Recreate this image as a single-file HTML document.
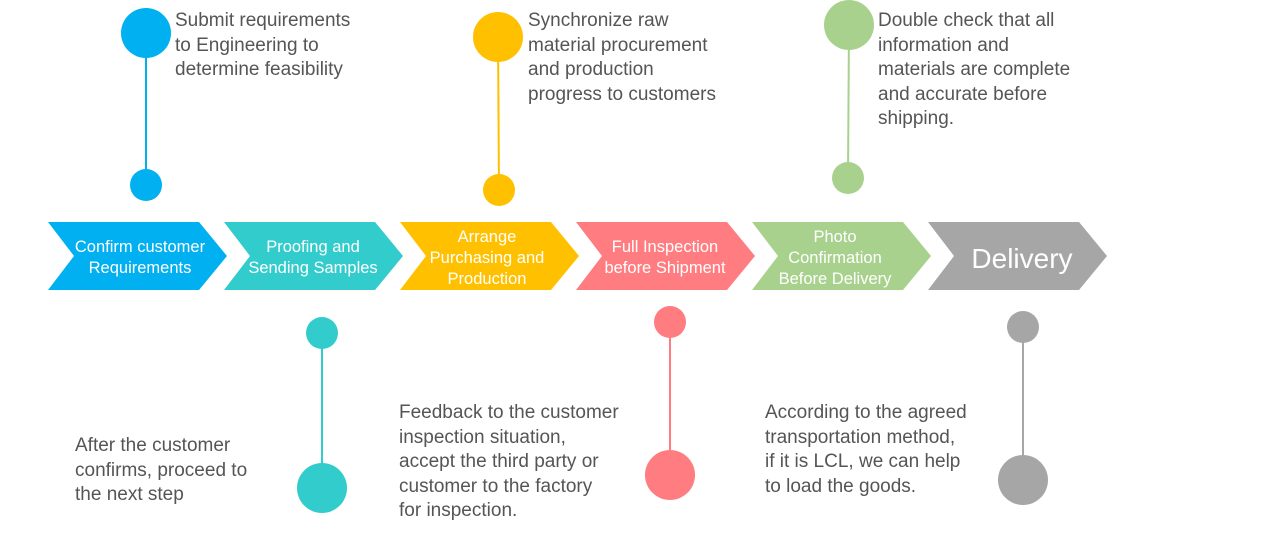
<!DOCTYPE html>
<html><head><meta charset="utf-8"><style>
html,body{margin:0;padding:0;background:#fff;width:1281px;height:551px;overflow:hidden}
svg{display:block}
.t{font-family:"Liberation Sans",sans-serif;font-size:19px;fill:#555}
.c{font-family:"Liberation Sans",sans-serif;font-size:16.5px;fill:#fff;text-anchor:middle}
</style></head><body>
<svg width="1281" height="551" viewBox="0 0 1281 551" xmlns="http://www.w3.org/2000/svg">
<g>
<polygon points="48,222 199,222 227,256 199,290 48,290 74,256" fill="#00b0f0"/>
<polygon points="224,222 375,222 403,256 375,290 224,290 250,256" fill="#33cccc"/>
<polygon points="400,222 551,222 579,256 551,290 400,290 426,256" fill="#ffc000"/>
<polygon points="576,222 727,222 755,256 727,290 576,290 602,256" fill="#ff7c80"/>
<polygon points="752,222 903,222 931,256 903,290 752,290 778,256" fill="#a9d18e"/>
<polygon points="928,222 1079,222 1107,256 1079,290 928,290 954,256" fill="#a6a6a6"/>
</g>
<text class="c" x="140" y="252">Confirm customer</text>
<text class="c" x="140" y="273">Requirements</text>
<text class="c" x="313" y="252">Proofing and</text>
<text class="c" x="313" y="273">Sending Samples</text>
<text class="c" x="487" y="242">Arrange</text>
<text class="c" x="487" y="263">Purchasing and</text>
<text class="c" x="487" y="284">Production</text>
<text class="c" x="665" y="252">Full Inspection</text>
<text class="c" x="665" y="273">before Shipment</text>
<text class="c" x="835" y="242">Photo</text>
<text class="c" x="835" y="263">Confirmation</text>
<text class="c" x="835" y="284">Before Delivery</text>
<text class="c" x="1022" y="268" style="font-size:28px">Delivery</text>

<line x1="146" y1="33" x2="146" y2="185" stroke="#00b0f0" stroke-width="2"/>
<circle cx="146" cy="33" r="25" fill="#00b0f0"/><circle cx="146" cy="185" r="16" fill="#00b0f0"/>
<line x1="498" y1="37" x2="499" y2="190" stroke="#ffc000" stroke-width="2"/>
<circle cx="498" cy="37" r="25" fill="#ffc000"/><circle cx="499" cy="190" r="16" fill="#ffc000"/>
<line x1="849" y1="25" x2="848" y2="178" stroke="#a9d18e" stroke-width="2"/>
<circle cx="849" cy="25" r="25" fill="#a9d18e"/><circle cx="848" cy="178" r="16" fill="#a9d18e"/>
<line x1="322" y1="333" x2="322" y2="488" stroke="#33cccc" stroke-width="2"/>
<circle cx="322" cy="333" r="16" fill="#33cccc"/><circle cx="322" cy="488" r="25" fill="#33cccc"/>
<line x1="670" y1="322" x2="670" y2="475" stroke="#ff7c80" stroke-width="2"/>
<circle cx="670" cy="322" r="16" fill="#ff7c80"/><circle cx="670" cy="475" r="25" fill="#ff7c80"/>
<line x1="1023" y1="327" x2="1023" y2="480" stroke="#a6a6a6" stroke-width="2"/>
<circle cx="1023" cy="327" r="16" fill="#a6a6a6"/><circle cx="1023" cy="480" r="25" fill="#a6a6a6"/>

<text class="t" x="175" y="26">Submit requirements</text>
<text class="t" x="175" y="51">to Engineering to</text>
<text class="t" x="175" y="75">determine feasibility</text>
<text class="t" x="528" y="26">Synchronize raw</text>
<text class="t" x="528" y="51">material procurement</text>
<text class="t" x="528" y="75">and production</text>
<text class="t" x="528" y="100">progress to customers</text>
<text class="t" x="878" y="26">Double check that all</text>
<text class="t" x="878" y="51">information and</text>
<text class="t" x="878" y="75">materials are complete</text>
<text class="t" x="878" y="100">and accurate before</text>
<text class="t" x="878" y="124">shipping.</text>
<text class="t" x="75" y="451">After the customer</text>
<text class="t" x="75" y="476">confirms, proceed to</text>
<text class="t" x="75" y="500">the next step</text>
<text class="t" x="399" y="418">Feedback to the customer</text>
<text class="t" x="399" y="443">inspection situation,</text>
<text class="t" x="399" y="467">accept the third party or</text>
<text class="t" x="399" y="492">customer to the factory</text>
<text class="t" x="399" y="516">for inspection.</text>
<text class="t" x="765" y="418">According to the agreed</text>
<text class="t" x="765" y="443">transportation method,</text>
<text class="t" x="765" y="467">if it is LCL, we can help</text>
<text class="t" x="765" y="492">to load the goods.</text>
</svg>
</body></html>
